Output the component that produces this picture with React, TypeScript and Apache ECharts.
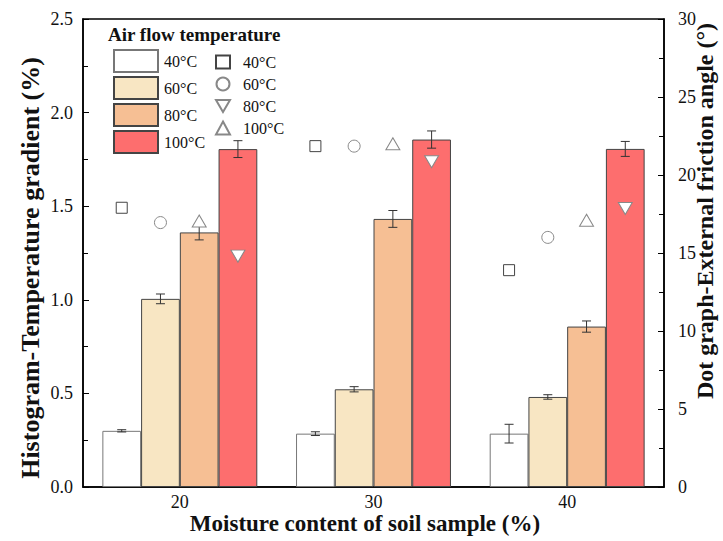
import React, { useEffect, useRef } from "react";
import * as echarts from "echarts";

const categories = ["20", "30", "40"];
const tempLabels = ["40°C", "60°C", "80°C", "100°C"];

// Histogram: temperature gradient (%)
const bar40 = [0.3, 0.285, 0.285];
const bar60 = [1.005, 0.522, 0.481];
const bar80 = [1.36, 1.432, 0.857];
const bar100 = [1.805, 1.856, 1.806];
const err40 = [0.006, 0.01, 0.05];
const err60 = [0.026, 0.014, 0.012];
const err80 = [0.04, 0.045, 0.03];
const err100 = [0.045, 0.046, 0.04];

// Dot graph: external friction angle (°)
const dot40 = [17.9, 21.85, 13.9];
const dot60 = [16.95, 21.85, 16.0];
const dot80 = [14.8, 20.85, 17.85];
const dot100 = [17.05, 22.0, 17.1];

const W = 723;
const H = 541;
const GRID = { left: 83, right: 59, top: 19, bottom: 54 };
const FONT = "'Liberation Serif', 'Times New Roman', serif";
const TXT = "#111";

export default function App() {
  const ref = useRef<HTMLDivElement>(null);

  useEffect(() => {
    if (!ref.current) return;
    const chart = echarts.init(ref.current, null, { renderer: "svg" });
    const catW = (W - GRID.left - GRID.right) / categories.length;
    const offs = [-0.3, -0.1, 0.1, 0.3];

    const barColors = ["#FFFFFF", "#F8E6C3", "#F6BF94", "#FD6E6E"];
    const bars = [bar40, bar60, bar80, bar100];
    const errs = [err40, err60, err80, err100];

    const barSeries = bars.map((d, i) => ({
      name: tempLabels[i],
      type: "bar",
      yAxisIndex: 0,
      data: d,
      barGap: "0%",
      barCategoryGap: "20%",
      itemStyle: {
        color: barColors[i],
        borderColor: i === 0 ? "#777" : "#444",
        borderWidth: 1,
      },
      z: 2,
    }));

    const errSeries = bars.map((d, i) => ({
      type: "custom",
      yAxisIndex: 0,
      z: 4,
      silent: true,
      data: d.map((v, k) => [k, v, errs[i][k]]),
      renderItem: (params: any, api: any) => {
        const c = api.value(0);
        const v = api.value(1);
        const e = api.value(2);
        const bw = api.size([1, 0])[0];
        const top = api.coord([c, v + e]);
        const bot = api.coord([c, v - e]);
        const x = top[0] + offs[i] * bw;
        const cap = 4.5;
        const style = { stroke: "#333", lineWidth: 1 };
        return {
          type: "group",
          children: [
            { type: "line", shape: { x1: x, y1: top[1], x2: x, y2: bot[1] }, style },
            { type: "line", shape: { x1: x - cap, y1: top[1], x2: x + cap, y2: top[1] }, style },
            { type: "line", shape: { x1: x - cap, y1: bot[1], x2: x + cap, y2: bot[1] }, style },
          ],
        };
      },
    }));

    const downTri = "path://M0,0L14,0L7,12Z";
    const dotDefs = [
      { d: dot40, symbol: "rect", size: 11, off: offs[0], stroke: "#444" },
      { d: dot60, symbol: "circle", size: 12, off: offs[1], stroke: "#888" },
      { d: dot80, symbol: downTri, size: [14, 12], off: offs[3], stroke: "#888" },
      { d: dot100, symbol: "triangle", size: [14, 12], off: offs[2], stroke: "#888" },
    ];
    const dotSeries = dotDefs.map((s, i) => ({
      name: tempLabels[i] + " ",
      type: "scatter",
      yAxisIndex: 1,
      data: s.d,
      symbol: s.symbol,
      symbolSize: s.size,
      symbolOffset: [s.off * catW, 0],
      itemStyle: { color: "#FFFFFF", borderColor: s.stroke, borderWidth: 1, opacity: 1 },
      z: 6,
    }));

    const tickLabel = { fontSize: 18, fontFamily: FONT, color: TXT };
    const nameStyle = (size: number, padding: number[]) => ({
      fontSize: size,
      fontWeight: "bold",
      fontFamily: FONT,
      color: TXT,
      padding,
    });

    chart.setOption({
      animation: false,
      backgroundColor: "#FFFFFF",
      title: {
        text: "Air flow temperature",
        left: 108,
        top: 25,
        padding: 0,
        textStyle: { fontSize: 19, fontWeight: "bold", fontFamily: FONT, color: TXT },
      },
      legend: [
        {
          data: tempLabels,
          orient: "vertical",
          left: 113,
          top: 49,
          padding: 0,
          icon: "rect",
          itemWidth: 44,
          itemHeight: 22,
          itemGap: 3,
          selectedMode: false,
          textStyle: { fontSize: 16, fontFamily: FONT, color: TXT, padding: [0, 0, 0, 1] },
        },
        {
          data: tempLabels.map((t) => t + " "),
          orient: "vertical",
          left: 215,
          top: 54,
          padding: 0,
          itemWidth: 14,
          itemHeight: 13,
          itemGap: 6,
          selectedMode: false,
          formatter: (n: string) => n.trim(),
          textStyle: { fontSize: 16, fontFamily: FONT, color: TXT, padding: [0, 0, 0, 8] },
        },
      ],
      grid: {
        left: GRID.left,
        right: GRID.right,
        top: GRID.top,
        bottom: GRID.bottom,
        outerBoundsMode: "none",
        containLabel: false,
        show: true,
        borderColor: "#000",
        borderWidth: 1.5,
        backgroundColor: "transparent",
      },
      xAxis: {
        type: "category",
        data: categories,
        boundaryGap: true,
        name: "Moisture content of soil sample (%)",
        nameLocation: "middle",
        nameGap: 25,
        nameMoveOverlap: false,
        nameTextStyle: nameStyle(23, [0, 17, 0, 0]),
        axisLine: { lineStyle: { color: "#000", width: 1.5 } },
        axisTick: { inside: true, length: 5, lineStyle: { color: "#000" } },
        axisLabel: { ...tickLabel, margin: 6 },
        splitLine: { show: false },
      },
      yAxis: [
        {
          type: "value",
          min: 0,
          max: 2.5,
          interval: 0.5,
          position: "left",
          name: "Histogram-Temperature gradient (%)",
          nameLocation: "middle",
          nameGap: 40,
          nameMoveOverlap: false,
          nameTextStyle: nameStyle(26, [0, 30, 0, 0]),
          axisLine: { show: true, lineStyle: { color: "#000", width: 1.5 } },
          axisTick: { show: true, inside: true, length: 6, lineStyle: { color: "#000" } },
          minorTick: { show: true, splitNumber: 2, length: 5, lineStyle: { color: "#000" } },
          axisLabel: { ...tickLabel, margin: 10, formatter: (v: number) => v.toFixed(1) },
          splitLine: { show: false },
        },
        {
          type: "value",
          min: 0,
          max: 30,
          interval: 5,
          position: "right",
          name: "Dot graph-External friction angle (°)",
          nameLocation: "middle",
          nameGap: 29,
          nameMoveOverlap: false,
          nameTextStyle: nameStyle(24, [0, 0, 0, 84]),
          axisLine: { show: true, lineStyle: { color: "#000", width: 1.5 } },
          axisTick: { show: true, inside: true, length: 6, lineStyle: { color: "#000" } },
          minorTick: { show: true, splitNumber: 2, length: 5, lineStyle: { color: "#000" } },
          axisLabel: { ...tickLabel, margin: 14 },
          splitLine: { show: false },
        },
      ],
      series: [...barSeries, ...errSeries, ...dotSeries],
    });

    return () => chart.dispose();
  }, []);

  return (
    <div
      ref={ref}
      style={{ position: "fixed", left: 0, top: 0, width: W, height: H, background: "#fff" }}
    />
  );
}
